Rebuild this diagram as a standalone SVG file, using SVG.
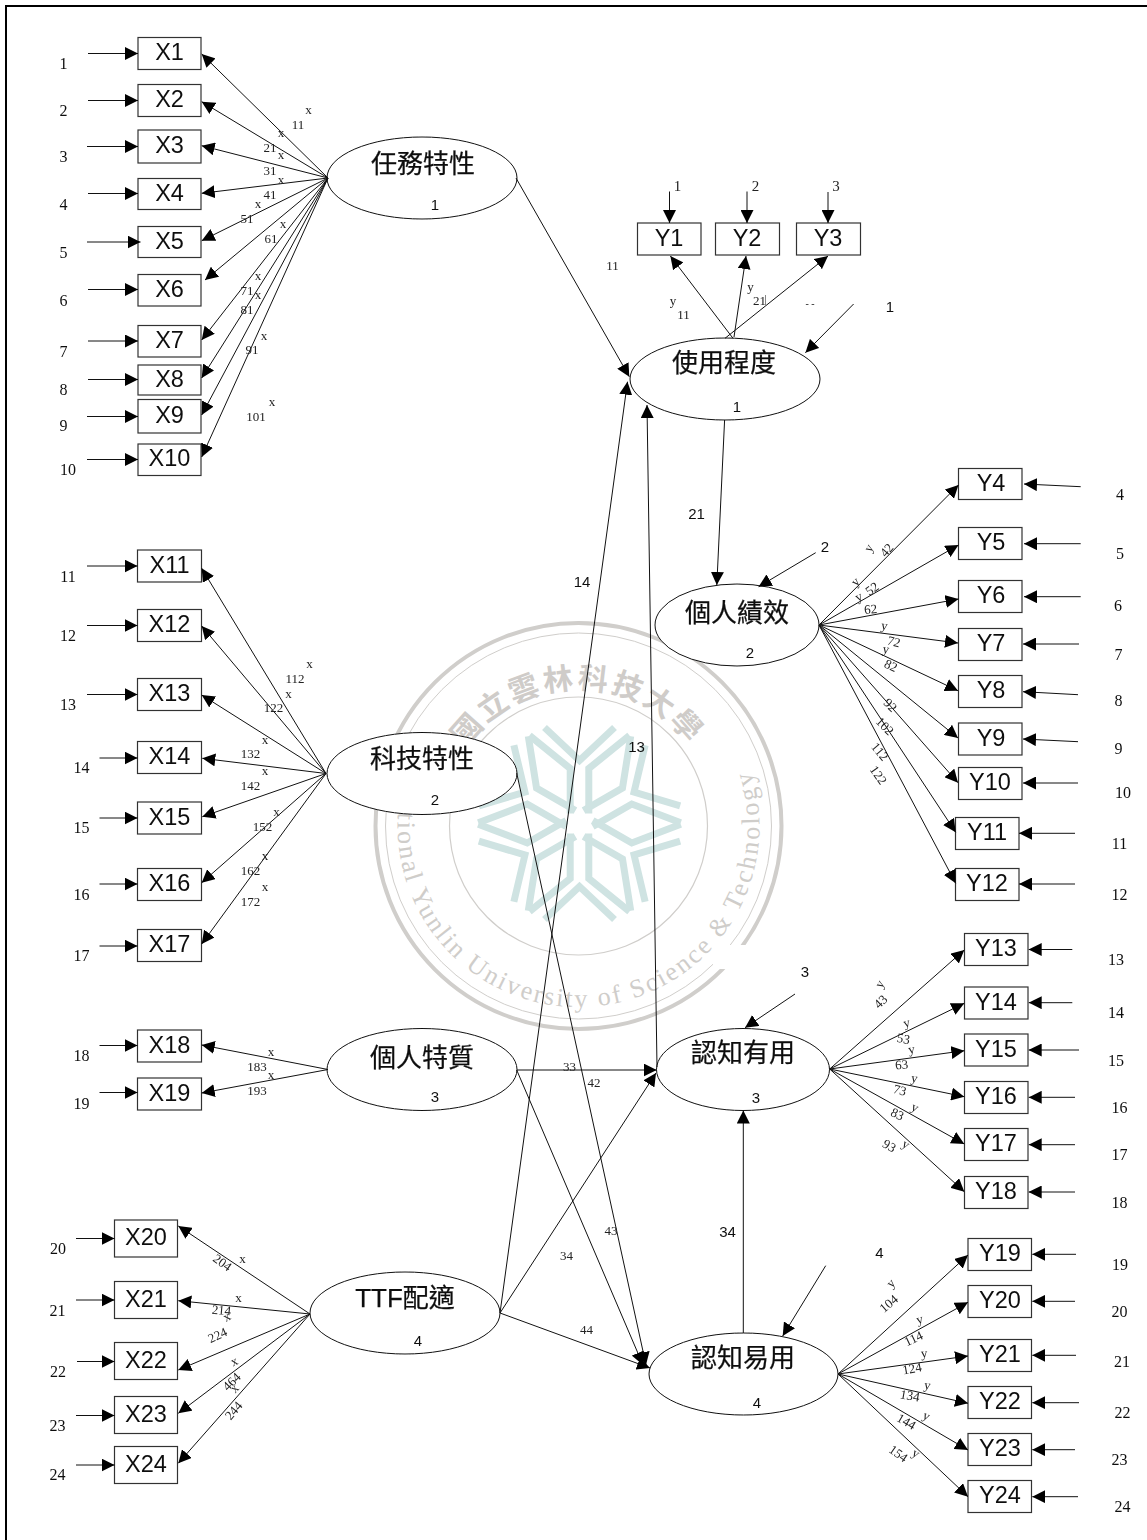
<svg xmlns="http://www.w3.org/2000/svg" width="1147" height="1540" viewBox="0 0 1147 1540">
<style>
text{dominant-baseline:central;text-anchor:middle;fill:#111}
.s{font:13px "Liberation Serif",serif;fill:#222}
.e{font:16px "Liberation Serif",serif;fill:#111}
.a{font:15px "Liberation Sans",sans-serif}
.n{font:23.5px "Liberation Sans",sans-serif}
.c{font:26px "Liberation Sans","Noto Sans CJK TC",sans-serif;stroke:#111;stroke-width:.25}
.b{fill:#fff;stroke:#333;stroke-width:1.2}
.o{fill:#fff;stroke:#111;stroke-width:1}
.l{fill:none;stroke:#111;stroke-width:1;marker-end:url(#h)}
.r{fill:none;stroke:#d0cecb}
.w{font:bold 30px "Noto Sans CJK TC",sans-serif;fill:#cfccc9;letter-spacing:6px}
.v{font:26px "Liberation Serif",serif;fill:#cfcdca;text-anchor:start}
.f{fill:none;stroke:#cfe3e2;stroke-width:7}
.g{filter:url(#soft)}
</style>
<defs>
<filter id="soft" filterUnits="userSpaceOnUse" x="0" y="0" width="1147" height="1540"><feGaussianBlur stdDeviation="0.3"/></filter>
<marker id="h" viewBox="0 0 13 13" refX="13" refY="6.5" markerWidth="13" markerHeight="13" markerUnits="userSpaceOnUse" orient="auto"><path d="M0,0L13,6.500L0,13z" fill="#000"/></marker>
<path id="arm" class="f" d="M-35,-96L0,-63L35,-96M-50,-88L-9.300,-55V-10M50,-88L9.300,-55V-10"/>
<path id="p1" d="M413,779.500A172,172 0 1 0 734.400,753.300"/>
<path id="p2" d="M442.500,762.600A150,150 0 0 1 714.500,762.600"/>
</defs>
<rect x="6" y="6" width="1160" height="1560" fill="#fff" stroke="#000" stroke-width="2"/>
<g id="watermark">
<circle class="r" cx="578.500" cy="826" r="203" stroke-width="4"/>
<circle class="r" cx="578.500" cy="826" r="193" stroke-width="1"/>
<circle class="r" cx="578.500" cy="826" r="129" stroke-width="1.2"/>
<use href="#arm" transform="translate(579.500,823.500)"/>
<use href="#arm" transform="translate(579.500,823.500) rotate(60)"/>
<use href="#arm" transform="translate(579.500,823.500) rotate(120)"/>
<use href="#arm" transform="translate(579.500,823.500) rotate(180)"/>
<use href="#arm" transform="translate(579.500,823.500) rotate(240)"/>
<use href="#arm" transform="translate(579.500,823.500) rotate(300)"/>
<text class="w"><textPath href="#p2" startOffset="50%">國立雲林科技大學</textPath></text>
<text class="v" textLength="640"><textPath href="#p1" startOffset="0">National Yunlin University of Science &amp; Technology</textPath></text>
<rect x="713" y="945" width="50" height="24" fill="#fff"/>
</g>
<g id="nodes" class="g">
<g id="X1"><rect class="b" x="138" y="37.500" width="63" height="32"/><text class="n" x="169.500" y="52">X1</text></g>
<g id="X2"><rect class="b" x="138" y="84.500" width="63" height="32"/><text class="n" x="169.500" y="99">X2</text></g>
<g id="X3"><rect class="b" x="138" y="130" width="63" height="33"/><text class="n" x="169.500" y="145">X3</text></g>
<g id="X4"><rect class="b" x="138" y="178.500" width="63" height="31"/><text class="n" x="169.500" y="193">X4</text></g>
<g id="X5"><rect class="b" x="138" y="226.500" width="63" height="31"/><text class="n" x="169.500" y="241">X5</text></g>
<g id="X6"><rect class="b" x="138" y="274.500" width="63" height="31.500"/><text class="n" x="169.500" y="289">X6</text></g>
<g id="X7"><rect class="b" x="138" y="325.500" width="63" height="31.500"/><text class="n" x="169.500" y="340">X7</text></g>
<g id="X8"><rect class="b" x="138" y="365" width="63" height="30"/><text class="n" x="169.500" y="379">X8</text></g>
<g id="X9"><rect class="b" x="138" y="399.500" width="63" height="33.500"/><text class="n" x="169.500" y="415">X9</text></g>
<g id="X10"><rect class="b" x="138" y="444" width="63" height="31.500"/><text class="n" x="169.500" y="458">X10</text></g>
<g id="X11"><rect class="b" x="137.500" y="550" width="64" height="32"/><text class="n" x="169.500" y="565">X11</text></g>
<g id="X12"><rect class="b" x="137.500" y="609.500" width="64" height="32"/><text class="n" x="169.500" y="624">X12</text></g>
<g id="X13"><rect class="b" x="137.500" y="678.500" width="64" height="32"/><text class="n" x="169.500" y="693">X13</text></g>
<g id="X14"><rect class="b" x="137.500" y="741.500" width="64" height="32"/><text class="n" x="169.500" y="756">X14</text></g>
<g id="X15"><rect class="b" x="137.500" y="802" width="64" height="32"/><text class="n" x="169.500" y="817">X15</text></g>
<g id="X16"><rect class="b" x="137.500" y="868.500" width="64" height="32"/><text class="n" x="169.500" y="883">X16</text></g>
<g id="X17"><rect class="b" x="137.500" y="929.500" width="64" height="32"/><text class="n" x="169.500" y="944">X17</text></g>
<g id="X18"><rect class="b" x="137.500" y="1030" width="64" height="32"/><text class="n" x="169.500" y="1045">X18</text></g>
<g id="X19"><rect class="b" x="137.500" y="1078" width="64" height="32"/><text class="n" x="169.500" y="1093">X19</text></g>
<g id="X20"><rect class="b" x="114.500" y="1220" width="63" height="37"/><text class="n" x="146" y="1237">X20</text></g>
<g id="X21"><rect class="b" x="114.500" y="1281.500" width="63" height="37"/><text class="n" x="146" y="1299">X21</text></g>
<g id="X22"><rect class="b" x="114.500" y="1342.500" width="63" height="37"/><text class="n" x="146" y="1360">X22</text></g>
<g id="X23"><rect class="b" x="114.500" y="1396.500" width="63" height="37"/><text class="n" x="146" y="1414">X23</text></g>
<g id="X24"><rect class="b" x="114.500" y="1446.500" width="63" height="37"/><text class="n" x="146" y="1464">X24</text></g>
<g id="Y1"><rect class="b" x="637.500" y="223" width="63.500" height="32"/><text class="n" x="669" y="238">Y1</text></g>
<g id="Y2"><rect class="b" x="715.500" y="223" width="64" height="32"/><text class="n" x="747" y="238">Y2</text></g>
<g id="Y3"><rect class="b" x="796.500" y="223" width="64" height="32"/><text class="n" x="828" y="238">Y3</text></g>
<g id="Y4"><rect class="b" x="958.500" y="468.500" width="63.500" height="31"/><text class="n" x="991" y="483">Y4</text></g>
<g id="Y5"><rect class="b" x="958.500" y="527.500" width="63.500" height="32"/><text class="n" x="991" y="542">Y5</text></g>
<g id="Y6"><rect class="b" x="958.500" y="580.500" width="63.500" height="32"/><text class="n" x="991" y="595">Y6</text></g>
<g id="Y7"><rect class="b" x="958.500" y="628.500" width="63.500" height="32"/><text class="n" x="991" y="643">Y7</text></g>
<g id="Y8"><rect class="b" x="958.500" y="675.500" width="63.500" height="32"/><text class="n" x="991" y="690">Y8</text></g>
<g id="Y9"><rect class="b" x="958.500" y="723" width="63.500" height="32"/><text class="n" x="991" y="738">Y9</text></g>
<g id="Y10"><rect class="b" x="958.500" y="767.500" width="63.500" height="32"/><text class="n" x="990" y="782">Y10</text></g>
<g id="Y11"><rect class="b" x="955.500" y="817.500" width="63.500" height="32"/><text class="n" x="987" y="832">Y11</text></g>
<g id="Y12"><rect class="b" x="955.500" y="868.500" width="63.500" height="32"/><text class="n" x="987" y="883">Y12</text></g>
<g id="Y13"><rect class="b" x="964.500" y="933.500" width="63.500" height="32"/><text class="n" x="996" y="948">Y13</text></g>
<g id="Y14"><rect class="b" x="964.500" y="987" width="63.500" height="32"/><text class="n" x="996" y="1002">Y14</text></g>
<g id="Y15"><rect class="b" x="964.500" y="1034" width="63.500" height="32"/><text class="n" x="996" y="1049">Y15</text></g>
<g id="Y16"><rect class="b" x="964.500" y="1081.500" width="63.500" height="32"/><text class="n" x="996" y="1096">Y16</text></g>
<g id="Y17"><rect class="b" x="964.500" y="1128.500" width="63.500" height="32"/><text class="n" x="996" y="1143">Y17</text></g>
<g id="Y18"><rect class="b" x="964.500" y="1176.500" width="63.500" height="32"/><text class="n" x="996" y="1191">Y18</text></g>
<g id="Y19"><rect class="b" x="968" y="1238.500" width="63.500" height="32"/><text class="n" x="1000" y="1253">Y19</text></g>
<g id="Y20"><rect class="b" x="968" y="1285.500" width="63.500" height="32"/><text class="n" x="1000" y="1300">Y20</text></g>
<g id="Y21"><rect class="b" x="968" y="1339.500" width="63.500" height="32"/><text class="n" x="1000" y="1354">Y21</text></g>
<g id="Y22"><rect class="b" x="968" y="1386.500" width="63.500" height="32"/><text class="n" x="1000" y="1401">Y22</text></g>
<g id="Y23"><rect class="b" x="968" y="1433.500" width="63.500" height="32"/><text class="n" x="1000" y="1448">Y23</text></g>
<g id="Y24"><rect class="b" x="968" y="1480.500" width="63.500" height="32"/><text class="n" x="1000" y="1495">Y24</text></g>
<g id="task"><ellipse class="o" cx="422" cy="178" rx="95" ry="41"/><text class="c" x="423" y="164">任務特性</text><text class="a" x="435" y="204">1</text></g>
<g id="tech"><ellipse class="o" cx="422" cy="773.500" rx="95" ry="41"/><text class="c" x="422" y="759">科技特性</text><text class="a" x="435" y="799">2</text></g>
<g id="person"><ellipse class="o" cx="422" cy="1069.500" rx="95" ry="41"/><text class="c" x="422" y="1058">個人特質</text><text class="a" x="435" y="1096">3</text></g>
<g id="ttf"><ellipse class="o" cx="405" cy="1313" rx="95" ry="41"/><text class="c" x="405" y="1298">TTF配適</text><text class="a" x="418" y="1340">4</text></g>
<g id="use"><ellipse class="o" cx="725" cy="379" rx="95" ry="41"/><text class="c" x="724" y="363">使用程度</text><text class="a" x="737" y="406">1</text></g>
<g id="perf"><ellipse class="o" cx="737" cy="625" rx="82" ry="41"/><text class="c" x="737" y="613">個人績效</text><text class="a" x="750" y="652">2</text></g>
<g id="pu"><ellipse class="o" cx="743" cy="1069.500" rx="86.500" ry="41"/><text class="c" x="743" y="1053">認知有用</text><text class="a" x="756" y="1097">3</text></g>
<g id="peou"><ellipse class="o" cx="743.500" cy="1374" rx="94.500" ry="41"/><text class="c" x="743" y="1358">認知易用</text><text class="a" x="757" y="1402">4</text></g>
</g>
<g id="connectors">
<path class="l" d="M88,53.500H138"/><path class="l" d="M88,100.500H138"/><path class="l" d="M87,146.500H138"/><path class="l" d="M88,193.500H138"/><path class="l" d="M87,242H140.500"/><path class="l" d="M88,289.500H138"/><path class="l" d="M88,341H138"/><path class="l" d="M88,379.500H138"/><path class="l" d="M87,416.500H138"/><path class="l" d="M87,459.500H138"/>
<path class="l" d="M328,178L201.700,54"/><path class="l" d="M328,178L201.700,101.700"/><path class="l" d="M328,178L201.700,145.700"/><path class="l" d="M328,178L201.700,193.300"/><path class="l" d="M328,178L201.700,240.700"/><path class="l" d="M328,178L205,280"/><path class="l" d="M328,178L201.700,340"/><path class="l" d="M328,178L201.700,378"/><path class="l" d="M328,178L201.700,415"/><path class="l" d="M328,178L201.700,457"/>
<path class="l" d="M87,566H137.500"/><path class="l" d="M87,625.500H137.500"/><path class="l" d="M87,694.500H137.500"/><path class="l" d="M99.500,758H137.500"/><path class="l" d="M99.500,818H137.500"/><path class="l" d="M99.500,884H137.500"/><path class="l" d="M99.500,946H137.500"/>
<path class="l" d="M326,773.500L201.700,568.300"/><path class="l" d="M326,773.500L201.700,626"/><path class="l" d="M326,773.500L201.700,695"/><path class="l" d="M326,773.500L202.300,758.300"/><path class="l" d="M326,773.500L202.300,816.700"/><path class="l" d="M326,773.500L201.700,882.700"/><path class="l" d="M326,773.500L201.700,944"/>
<path class="l" d="M99.500,1045.500H137.500"/><path class="l" d="M99.500,1092.500H137.500"/>
<path class="l" d="M328,1069.500L201.700,1045"/><path class="l" d="M328,1069.500L201.700,1093"/>
<path class="l" d="M76,1238.500H114.500"/><path class="l" d="M76,1300H114.500"/><path class="l" d="M77,1361.500H114.500"/><path class="l" d="M76,1415.500H114.500"/><path class="l" d="M76,1465H114.500"/>
<path class="l" d="M310,1314L178.300,1226"/><path class="l" d="M310,1314L178.300,1300.700"/><path class="l" d="M310,1314L178.300,1370"/><path class="l" d="M310,1314L178.300,1413.300"/><path class="l" d="M310,1314L178.300,1463.300"/>
<path class="l" d="M669.500,191.500V223"/><path class="l" d="M747,191.500V223"/><path class="l" d="M828,192V223"/>
<path class="l" d="M733,338.300L670.400,256"/><path class="l" d="M734,337L746,256"/><path class="l" d="M725,338.300L828,256"/>
<path class="l" d="M853.600,304L805.400,352.700"/>
<path class="l" d="M516,178L629.300,376.700"/>
<path class="l" d="M500,1313L627.500,381.700"/>
<path class="l" d="M657,1067L647,405"/>
<path class="l" d="M724.600,420L716.800,585"/>
<path class="l" d="M815.700,552.700L758.600,586.700"/>
<path class="l" d="M1080.700,486.700L1024,484"/><path class="l" d="M1080.700,543.700H1024"/><path class="l" d="M1080.700,596.700H1024"/><path class="l" d="M1079,644H1023"/><path class="l" d="M1078,694.700L1023,691.700"/><path class="l" d="M1078,741.700L1023,739"/><path class="l" d="M1078,783H1023"/><path class="l" d="M1075,833.300H1019"/><path class="l" d="M1075,884H1019"/>
<path class="l" d="M819,625L958.500,485"/><path class="l" d="M819,625L958.500,545"/><path class="l" d="M819,625L958.500,599"/><path class="l" d="M819,625L958,643"/><path class="l" d="M819,625L958,690.700"/><path class="l" d="M819,625L958,738"/><path class="l" d="M819,625L958,782.700"/><path class="l" d="M819,625L955.700,832.300"/><path class="l" d="M819,625L955.700,883.300"/>
<path class="l" d="M1072.300,949.500H1028.700"/><path class="l" d="M1072.300,1002.700H1028.700"/><path class="l" d="M1079,1050H1028.700"/><path class="l" d="M1075,1097.300H1028.700"/><path class="l" d="M1075,1144.700H1028.700"/><path class="l" d="M1075,1192H1028.700"/>
<path class="l" d="M829.700,1069L964.300,950"/><path class="l" d="M829.700,1069L964.300,1003.300"/><path class="l" d="M829.700,1069L964.300,1050.700"/><path class="l" d="M829.700,1069L964.300,1096.700"/><path class="l" d="M829.700,1069L964.300,1144"/><path class="l" d="M829.700,1069L964.300,1191.700"/>
<path class="l" d="M795,994L745,1027.700"/>
<path class="l" d="M1076,1254.300H1032.300"/><path class="l" d="M1075,1301.300H1032.300"/><path class="l" d="M1076,1355.300H1032.300"/><path class="l" d="M1079,1402.700H1032.300"/><path class="l" d="M1075,1449.700H1032.300"/><path class="l" d="M1078,1496.700H1032.300"/>
<path class="l" d="M838,1374L968,1255"/><path class="l" d="M838,1374L968,1302.300"/><path class="l" d="M838,1374L968,1356"/><path class="l" d="M838,1374L968,1403.300"/><path class="l" d="M838,1374L968,1450"/><path class="l" d="M838,1374L968,1496.700"/>
<path class="l" d="M825.700,1265.700L782.700,1336"/>
<path class="l" d="M516.700,1070H656.700"/>
<path class="l" d="M516.700,773L646,1365"/>
<path class="l" d="M516.700,1070L643,1365"/>
<path class="l" d="M500,1313L656,1073"/>
<path class="l" d="M500,1313L650,1368"/>
<path class="l" d="M743.300,1333V1110.500"/>
</g>
<g id="labels" class="g">
<text class="e" x="63.500" y="63">1</text><text class="e" x="63.500" y="110">2</text><text class="e" x="63.500" y="156">3</text><text class="e" x="63.500" y="204">4</text><text class="e" x="63.500" y="252">5</text><text class="e" x="63.500" y="300">6</text><text class="e" x="63.500" y="351">7</text><text class="e" x="63.500" y="389">8</text><text class="e" x="63.500" y="425">9</text><text class="e" x="68" y="469">10</text>
<text class="e" x="68" y="576">11</text><text class="e" x="68" y="635.500">12</text><text class="e" x="68" y="704">13</text><text class="e" x="81.500" y="767.500">14</text><text class="e" x="81.500" y="827.500">15</text><text class="e" x="81.500" y="894">16</text><text class="e" x="81.500" y="955">17</text><text class="e" x="81.500" y="1055">18</text><text class="e" x="81.500" y="1103">19</text>
<text class="e" x="58" y="1248.500">20</text><text class="e" x="57.500" y="1310.500">21</text><text class="e" x="58" y="1371.500">22</text><text class="e" x="57.500" y="1425.500">23</text><text class="e" x="57.500" y="1474">24</text>
<text class="e" x="1120" y="494">4</text><text class="e" x="1120" y="553">5</text><text class="e" x="1118" y="605">6</text><text class="e" x="1118.500" y="654">7</text><text class="e" x="1118.500" y="700.500">8</text><text class="e" x="1118.500" y="748.500">9</text><text class="e" x="1123" y="792.500">10</text><text class="e" x="1119.500" y="843.500">11</text><text class="e" x="1119.500" y="894">12</text>
<text class="e" x="1116" y="959.500">13</text><text class="e" x="1116" y="1012.500">14</text><text class="e" x="1116" y="1060.500">15</text><text class="e" x="1119.500" y="1107.500">16</text><text class="e" x="1119.500" y="1154.500">17</text><text class="e" x="1119.500" y="1202">18</text>
<text class="e" x="1120" y="1264">19</text><text class="e" x="1119.500" y="1311">20</text><text class="e" x="1122" y="1361.500">21</text><text class="e" x="1122.500" y="1412.500">22</text><text class="e" x="1119.500" y="1459.500">23</text><text class="e" x="1122.500" y="1506.500">24</text>
<text class="s" x="308.500" y="109">x</text><text class="s" x="298" y="124">11</text><text class="s" x="281" y="132">x</text><text class="s" x="270" y="147">21</text><text class="s" x="281" y="154">x</text><text class="s" x="270" y="170">31</text><text class="s" x="281" y="179">x</text><text class="s" x="270" y="194">41</text><text class="s" x="258" y="203">x</text><text class="s" x="247" y="218">51</text><text class="s" x="283" y="223">x</text><text class="s" x="271" y="238">61</text><text class="s" x="258" y="275">x</text><text class="s" x="247" y="290">71</text><text class="s" x="258" y="294">x</text><text class="s" x="247" y="309">81</text><text class="s" x="264" y="335">x</text><text class="s" x="252" y="349">91</text><text class="s" x="272" y="401">x</text><text class="s" x="256" y="416">101</text>
<text class="s" x="309.500" y="663">x</text><text class="s" x="295" y="678">112</text><text class="s" x="288.500" y="693">x</text><text class="s" x="273.500" y="707.500">122</text><text class="s" x="265" y="739">x</text><text class="s" x="250.500" y="753.500">132</text><text class="s" x="265" y="770">x</text><text class="s" x="250.500" y="785.500">142</text><text class="s" x="276.500" y="811">x</text><text class="s" x="262.500" y="826">152</text><text class="s" x="265" y="855">x</text><text class="s" x="250.500" y="870">162</text><text class="s" x="265" y="886">x</text><text class="s" x="250.500" y="901">172</text>
<text class="s" x="271" y="1051">x</text><text class="s" x="257" y="1066">183</text><text class="s" x="271" y="1074">x</text><text class="s" x="257" y="1090">193</text>
<text class="s" transform="rotate(35 222.500 1262.500)" x="222.500" y="1262.500">204</text><text class="s" font-style="italic" x="242.500" y="1258">x</text><text class="s" x="238.500" y="1297">x</text><text class="s" transform="rotate(5 221.500 1310)" x="221.500" y="1310">214</text><text class="s" transform="rotate(-30 226.500 1316.500)" x="226.500" y="1316.500">x</text><text class="s" transform="rotate(-25 217.500 1335)" x="217.500" y="1335">224</text><text class="s" transform="rotate(-25 234 1361)" x="234" y="1361">x</text><text class="s" transform="rotate(-45 231.500 1381.500)" x="231.500" y="1381.500">464</text><text class="s" transform="rotate(-45 234 1388)" x="234" y="1388">x</text><text class="s" transform="rotate(-50 233.500 1410.500)" x="233.500" y="1410.500">244</text>
<text class="s" x="677.500" y="185.500" style="font-size:15px">1</text><text class="s" x="755.500" y="185.500" style="font-size:15px">2</text><text class="s" x="836" y="185.500" style="font-size:15px">3</text>
<text class="s" x="612.500" y="265">11</text><text class="s" x="673" y="300">y</text><text class="s" x="683.500" y="314">11</text><text class="s" x="750.500" y="286">y</text><text class="s" x="759.500" y="300">21</text><path d="M765.500,295V305" stroke="#888" fill="none"/><text class="s" x="810" y="303" style="font-size:10px">- -</text>
<text class="a" x="890" y="306">1</text><text class="a" x="696.500" y="513">21</text><text class="a" x="825" y="546.500">2</text><text class="a" x="805" y="971">3</text><text class="a" x="879.500" y="1252.500">4</text><text class="a" x="582" y="581">14</text><text class="a" x="636.500" y="746">13</text><text class="a" x="727.500" y="1231">34</text>
<text class="s" x="569.500" y="1066">33</text><text class="s" x="594" y="1082.500">42</text><text class="s" x="611" y="1230">43</text><text class="s" x="566.500" y="1255">34</text><text class="s" x="586.500" y="1329.500">44</text>
<text class="s" transform="rotate(-60 868.500 548)" x="868.500" y="548">y</text><text class="s" transform="rotate(-50 886.500 550)" x="886.500" y="550">42</text><text class="s" transform="rotate(-45 855 581.500)" x="855" y="581.500">y</text><text class="s" transform="rotate(-35 872 588.500)" x="872" y="588.500">52</text><text class="s" transform="rotate(-25 858.500 596.500)" x="858.500" y="596.500">y</text><text class="s" transform="rotate(-5 870.500 609)" x="870.500" y="609">62</text><text class="s" transform="rotate(10 884.500 625.500)" x="884.500" y="625.500">y</text><text class="s" transform="rotate(15 894 641.500)" x="894" y="641.500">72</text><text class="s" transform="rotate(10 886 649)" x="886" y="649">y</text><text class="s" transform="rotate(25 891 665.500)" x="891" y="665.500">82</text><text class="s" transform="rotate(45 890.500 705)" x="890.500" y="705">92</text><text class="s" transform="rotate(45 885 726)" x="885" y="726">102</text><text class="s" transform="rotate(50 880 751.500)" x="880" y="751.500">112</text><text class="s" transform="rotate(55 878.500 775)" x="878.500" y="775">122</text>
<text class="s" transform="rotate(-60 879.500 984)" x="879.500" y="984">y</text><text class="s" transform="rotate(-45 880.500 1001.500)" x="880.500" y="1001.500">43</text><text class="s" transform="rotate(-15 906.500 1022.500)" x="906.500" y="1022.500">y</text><text class="s" transform="rotate(10 903.500 1038.500)" x="903.500" y="1038.500">53</text><text class="s" transform="rotate(-10 911.500 1049)" x="911.500" y="1049">y</text><text class="s" transform="rotate(-5 901.500 1064.500)" x="901.500" y="1064.500">63</text><text class="s" transform="rotate(10 914.500 1078)" x="914.500" y="1078">y</text><text class="s" transform="rotate(15 900 1090)" x="900" y="1090">73</text><text class="s" transform="rotate(25 915 1107)" x="915" y="1107">y</text><text class="s" transform="rotate(25 897.500 1114)" x="897.500" y="1114">83</text><text class="s" transform="rotate(30 889.500 1145.500)" x="889.500" y="1145.500">93</text><text class="s" transform="rotate(30 906 1144)" x="906" y="1144">y</text>
<text class="s" transform="rotate(-45 890.500 1283)" x="890.500" y="1283">y</text><text class="s" transform="rotate(-40 888.500 1303.500)" x="888.500" y="1303.500">104</text><text class="s" transform="rotate(-15 919.500 1319)" x="919.500" y="1319">y</text><text class="s" transform="rotate(-25 913.500 1338.500)" x="913.500" y="1338.500">114</text><text class="s" transform="rotate(-5 924 1353)" x="924" y="1353">y</text><text class="s" transform="rotate(-10 912 1368.500)" x="912" y="1368.500">124</text><text class="s" transform="rotate(10 927.500 1385)" x="927.500" y="1385">y</text><text class="s" transform="rotate(10 910 1395.500)" x="910" y="1395.500">134</text><text class="s" transform="rotate(25 926.500 1415.500)" x="926.500" y="1415.500">y</text><text class="s" transform="rotate(30 906.500 1421.500)" x="906.500" y="1421.500">144</text><text class="s" transform="rotate(35 898.500 1453.500)" x="898.500" y="1453.500">154</text><text class="s" transform="rotate(30 916 1453)" x="916" y="1453">y</text>
</g>
</svg>
